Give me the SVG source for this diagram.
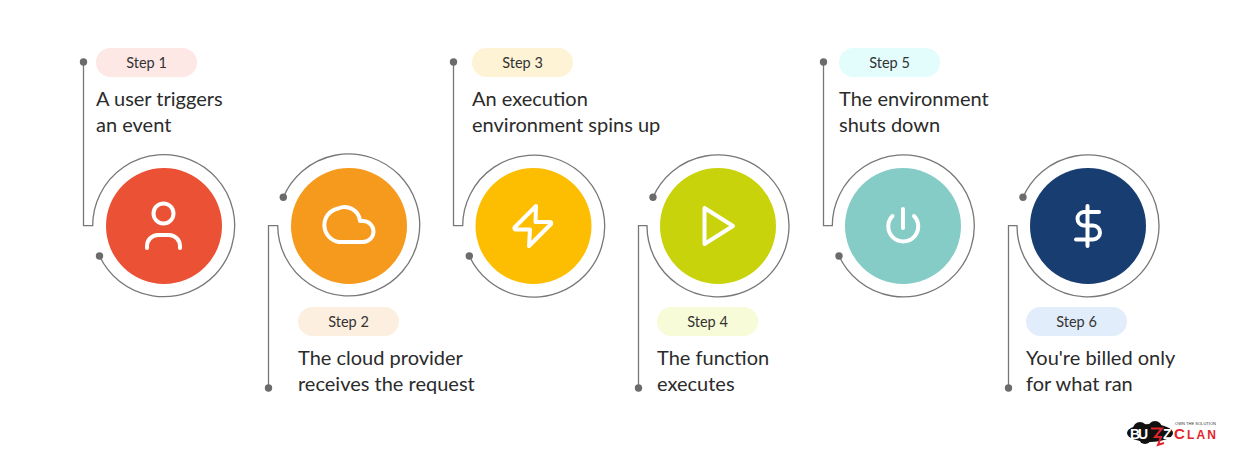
<svg xmlns="http://www.w3.org/2000/svg" width="1240" height="464" viewBox="0 0 1240 464">
<style>
.c{fill:none;stroke:#777;stroke-width:1.3}
.d{fill:#6b6b6b}
.i{fill:none;stroke:#fff;stroke-width:4;stroke-linecap:round;stroke-linejoin:round}
.s{font:400 14.500px Lato,"Noto Sans",sans-serif;fill:#333;text-anchor:middle}
.t{font:400 20px Lato,"Noto Sans",sans-serif;fill:#2b2b2b}
</style>
<rect width="1240" height="464" fill="#fff"/>
<g id="connectors">
<path class="c" d="M83.500 62V225.700H92.700A71 71 0 1 1 99.500 256"/>
<path class="c" d="M283.300 197.300A71 71 0 1 1 277.700 225.700H268.500V388"/>
<path class="c" d="M453.500 62V225.700H462.700A71 71 0 1 1 469.300 256"/>
<path class="c" d="M653 197.300A71 71 0 1 1 647 225.700H638.500V388"/>
<path class="c" d="M823.500 62V225.700H832.300A71 71 0 1 1 839 256"/>
<path class="c" d="M1023 197.300A71 71 0 1 1 1017 225.700H1008.500V388"/>
<g class="d">
<circle cx="83.500" cy="62" r="3.700"/><circle cx="99.500" cy="256" r="3.700"/>
<circle cx="283.300" cy="197.300" r="3.700"/><circle cx="268.500" cy="388" r="3.700"/>
<circle cx="453.500" cy="62" r="3.700"/><circle cx="469.300" cy="256" r="3.700"/>
<circle cx="653" cy="197.300" r="3.700"/><circle cx="638.500" cy="388" r="3.700"/>
<circle cx="823.500" cy="62" r="3.700"/><circle cx="839" cy="256" r="3.700"/>
<circle cx="1023" cy="197.300" r="3.700"/><circle cx="1008.500" cy="388" r="3.700"/>
</g>
</g>
<g id="step1">
<circle cx="164" cy="226" r="58" fill="#ea5135"/>
<circle class="i" cx="163.500" cy="213.500" r="10"/>
<path class="i" d="M147 248V246A11 11 0 0 1 158 235H169A11 11 0 0 1 180 246V248"/>
<rect x="96" y="48" width="101" height="29" rx="14.500" fill="#fde8e6"/>
<text class="s" x="146.500" y="68">Step 1</text>
<text class="t" x="96" y="106">A user triggers</text>
<text class="t" x="96" y="132">an event</text>
</g>
<g id="step2">
<circle cx="349" cy="226" r="58" fill="#f59a1d"/>
<path class="i" d="M339 242H363A10.500 10.500 0 0 0 363 221H360A15.500 15.500 0 0 0 338 208.500H338A17 17 0 0 0 339 242Z"/>
<rect x="298" y="307" width="101" height="29" rx="14.500" fill="#fdefdf"/>
<text class="s" x="348.500" y="327">Step 2</text>
<text class="t" x="298" y="365">The cloud provider</text>
<text class="t" x="298" y="391">receives the request</text>
</g>
<g id="step3">
<circle cx="533.500" cy="226" r="58" fill="#fdbd00"/>
<path class="i" d="M536 206L514.500 227.500Q514 229.500 516 229.500H530L529 246L551 224Q552 222 549.500 222H535.500Z"/>
<rect x="472" y="48" width="101" height="29" rx="14.500" fill="#fff3d6"/>
<text class="s" x="522.500" y="68">Step 3</text>
<text class="t" x="472" y="106">An execution</text>
<text class="t" x="472" y="132">environment spins up</text>
</g>
<g id="step4">
<circle cx="718" cy="226" r="58" fill="#c8d30c"/>
<path class="i" d="M704.500 208V244L733 226Z"/>
<rect x="657" y="307" width="101" height="29" rx="14.500" fill="#f8fbd8"/>
<text class="s" x="707.500" y="327">Step 4</text>
<text class="t" x="657" y="365">The function</text>
<text class="t" x="657" y="391">executes</text>
</g>
<g id="step5">
<circle cx="903" cy="226" r="58" fill="#85cbc6"/>
<path class="i" d="M903 209V228"/>
<path class="i" d="M892.500 216A15 15 0 1 0 914 216"/>
<rect x="839" y="48" width="101" height="29" rx="14.500" fill="#e3fcfc"/>
<text class="s" x="889.500" y="68">Step 5</text>
<text class="t" x="839" y="106">The environment</text>
<text class="t" x="839" y="132">shuts down</text>
</g>
<g id="step6">
<circle cx="1088" cy="226" r="58" fill="#183d70"/>
<path class="i" d="M1087.500 206V246"/>
<path class="i" d="M1099 212H1083.500A6.800 6.800 0 0 0 1083.500 225.500H1093A7 7 0 0 1 1093 239.500H1076"/>
<rect x="1026" y="307" width="101" height="29" rx="14.500" fill="#e2edfb"/>
<text class="s" x="1076.500" y="327">Step 6</text>
<text class="t" x="1026" y="365">You're billed only</text>
<text class="t" x="1026" y="391">for what ran</text>
</g>
<g id="logo">
<ellipse cx="1150" cy="433" rx="23" ry="9" fill="#111"/>
<circle cx="1140" cy="429" r="7" fill="#111"/><circle cx="1155" cy="428" r="7" fill="#111"/><circle cx="1145" cy="438" r="6" fill="#111"/>
<text x="1130" y="438.500" font-family="Liberation Sans,sans-serif" font-size="14" font-weight="700" fill="#fff" textLength="18">BU</text>
<path d="M1151 428.500H1162L1155 437H1161L1158 445L1164 443" fill="none" stroke="#e3242b" stroke-width="2"/>
<text x="1163" y="438.500" font-family="Liberation Sans,sans-serif" font-size="14" font-weight="700" fill="#fff">Z</text>
<text x="1175" y="424.500" font-family="Liberation Sans,sans-serif" font-size="4" fill="#333" textLength="41">OWN THE SOLUTION</text>
<text x="1174" y="438.500" font-family="Liberation Sans,sans-serif" font-size="15" font-weight="700" fill="#e3242b" textLength="42">C<tspan font-size="12">LAN</tspan></text>
</g>
</svg>
